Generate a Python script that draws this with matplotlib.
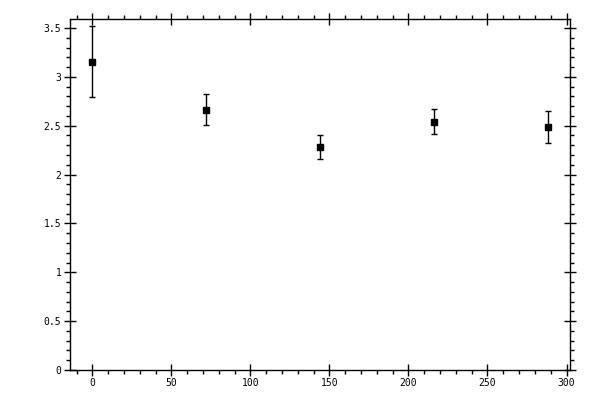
import matplotlib
matplotlib.use("Agg")
import matplotlib.pyplot as plt
from matplotlib.ticker import MultipleLocator

x = [0, 72, 144, 216, 288]
y = [3.157, 2.665, 2.282, 2.543, 2.488]
yerr = [0.36, 0.157, 0.118, 0.127, 0.16]

xticks = [0, 50, 100, 150, 200, 250, 300]
yticks = [0, 0.5, 1, 1.5, 2, 2.5, 3, 3.5]
ylabels = ["0", "0.5", "1", "1.5", "2", "2.5", "3", "3.5"]

fig = plt.figure(figsize=(6, 4), dpi=100)
ax = fig.add_axes([0.116, 0.075, 0.8345, 0.877])
ax.errorbar(x, y, yerr=yerr, fmt='s', color='black', markersize=5,
            capsize=1.9, elinewidth=1, capthick=1, ecolor='black')
ax.set_xlim(-14.4, 302.4)
ax.set_ylim(0, 3.59)
ax.set_xticks(xticks)
ax.set_xticklabels([str(t) for t in xticks])
ax.set_yticks(yticks)
ax.set_yticklabels(ylabels)
ax.xaxis.set_minor_locator(MultipleLocator(10))
ax.yaxis.set_minor_locator(MultipleLocator(0.1))
for s in ax.spines.values():
    s.set_linewidth(1)
ax.tick_params(which='major', direction='inout', length=8, width=1,
               top=True, right=True, labelsize=7, pad=2)
ax.tick_params(which='minor', direction='out', length=3, width=1,
               top=True, right=True)
for lab in ax.get_xticklabels() + ax.get_yticklabels():
    lab.set_family('DejaVu Sans Mono')
fig.savefig("out.png", dpi=100)
